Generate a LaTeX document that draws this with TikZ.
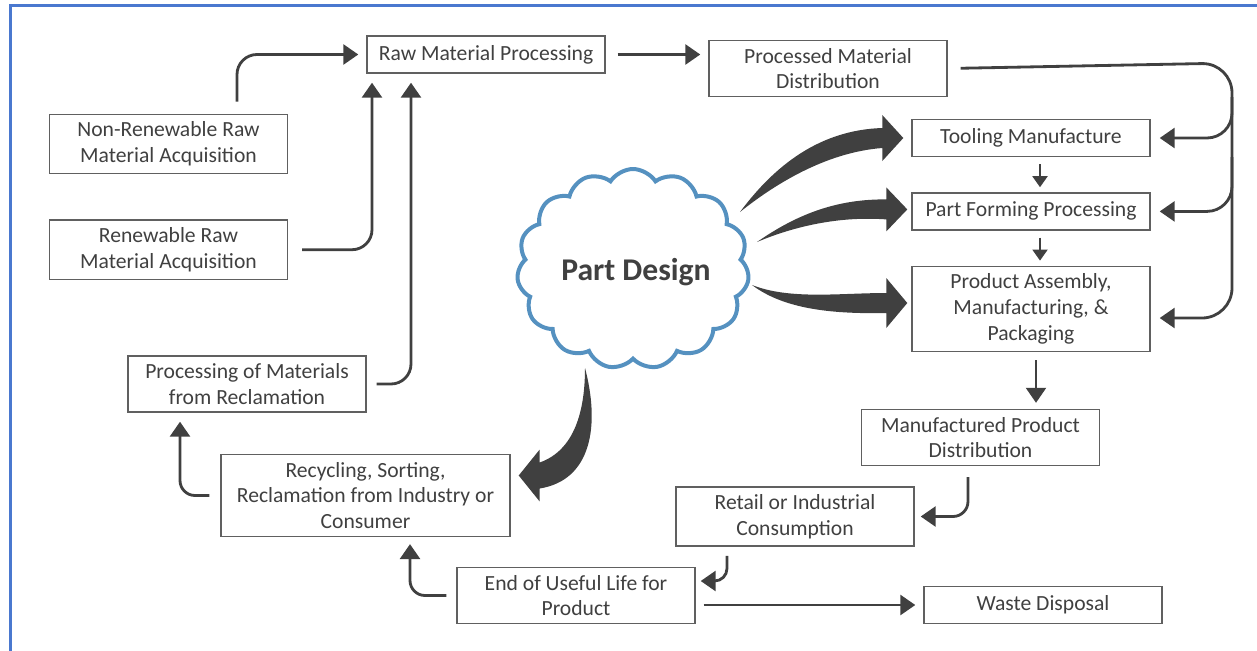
\documentclass[tikz,border=0pt]{standalone}
\usepackage{fontspec}
\setmainfont{Carlito}
\usetikzlibrary{arrows.meta,shapes.symbols,positioning}

\definecolor{ink}{HTML}{404040}
\definecolor{boxline}{HTML}{606060}
\definecolor{cloudblue}{HTML}{5591C0}
\definecolor{frameblue}{HTML}{4A78CF}

\tikzset{box/.style={draw=boxline, line width=0.8pt, text=ink, align=center, minimum width=47.6mm, minimum height=7.4mm, inner ysep=1.5mm, font=\fontsize{12.3}{14.7}\selectfont}}
\tikzset{arr/.style={draw=ink, line width=1.6pt, -{Triangle[width=4mm,length=3mm]}}}
\tikzset{sarr/.style={arr, line width=1.1pt, -{Triangle[width=3mm,length=2.2mm]}}}
\tikzset{fat/.style={fill=ink}}

\newcommand{\fatarrow}[9]{%
  \fill[fat] (#1) .. controls #3 and #4 .. ([shift={({-21*#7},-#8)}]#2)
    -- ([shift={({-21*#7},-#9)}]#2) -- (#2) -- ([shift={({-21*#7},#9)}]#2)
    -- ([shift={({-21*#7},#8)}]#2) .. controls #5 and #6 .. (#1) -- cycle;}

\begin{document}
\begin{tikzpicture}[x=0.2mm,y=-0.2mm]
    \useasboundingbox (0,0) rectangle (1257,650);
    \draw[frameblue, line width=0.6mm] (10,660) -- (10,5.5) -- (1265,5.5);

    \node[box] (raw) at (486,54.5) {Raw Material Processing};
    \node[box] (proc) at (828,68.5) {Processed Material\\Distribution};
    \node[box] (nren) at (168.5,144) {Non-Renewable Raw\\Material Acquisition};
    \node[box] (ren) [below=9mm of nren] {Renewable Raw\\Material Acquisition};
    \node[box] (recl) at (247,384) {Processing of Materials\\from Reclamation};
    \node[box, minimum width=57.8mm] (recy) at (365.5,495.5) {Recycling, Sorting,\\Reclamation from Industry or\\Consumer};
    \node[box] (eol) at (576,595.5) {End of Useful Life for\\Product};
    \node[box] (waste) at (1043,605) {Waste Disposal};
    \node[box] (retail) at (795,516.5) {Retail or Industrial\\Consumption};
    \node[box] (mfd) at (980.5,437.5) {Manufactured Product\\Distribution};
    \node[box] (tool) at (1031,138) {Tooling Manufacture};
    \node[box] (form) [below=7mm of tool] {Part Forming Processing};
    \node[box] (pack) [below=7mm of form] {Product Assembly,\\Manufacturing, \&\\Packaging};

    \node[cloud, cloud puffs=15, cloud puff arc=115, aspect=1.18, draw=cloudblue, line width=0.8mm, minimum width=46.4mm, minimum height=40mm] (pd) at (633,269) {};
    \node[text=ink, font=\bfseries\fontsize{18}{20}\selectfont] (pdt) at (636,272) {Part Design};

    \draw[arr, shorten <=2.4mm, shorten >=1.6mm] (raw.east) -- (raw.east -| proc.west);
    \draw[arr, rounded corners=4mm, shorten <=2.4mm, shorten >=1.6mm] ([xshift=13.7mm]nren.north) |- (raw.west);
    \draw[arr, rounded corners=4mm, shorten <=2.8mm, shorten >=1.8mm] (ren.east) -| ([xshift=-22.8mm]raw.south);
    \draw[arr, rounded corners=4mm, shorten <=2mm, shorten >=1.8mm] (recl.east) -| ([xshift=-15mm]raw.south);

    \coordinate (bend) at (1232,63);
    \coordinate (pk) at ([yshift=-1.8mm]pack.east);
    \draw[arr, rounded corners=6mm, shorten <=2.6mm, shorten >=1.8mm] (proc.east) -- (bend) -- (bend |- pk) -- (pk);
    \draw[arr, rounded corners=5mm, shorten >=1.8mm] (bend |- proc.south) |- (tool.east);
    \draw[arr, rounded corners=5mm, shorten >=1.8mm] (bend |- tool.south) |- (form.east);

    \draw[sarr, shorten <=1.4mm, shorten >=1mm] ([xshift=1.8mm]tool.south) -- ([xshift=1.8mm]form.north);
    \draw[sarr, shorten <=1.4mm, shorten >=1mm] ([xshift=1.8mm]form.south) -- ([xshift=1.8mm]pack.north);
    \draw[arr, line width=1.3pt, shorten <=1.6mm, shorten >=1.2mm] ([xshift=1mm]pack.south) -- ([xshift=1mm]pack.south |- mfd.north);
    \draw[arr, rounded corners=3mm, shorten <=2.2mm, shorten >=1.2mm] ([xshift=-2.5mm]mfd.south) |- (retail.east);
    \draw[arr, rounded corners=2.5mm, shorten <=1.8mm, shorten >=1mm] ([xshift=-13.6mm]retail.south) |- ([yshift=2.9mm]eol.east);
    \draw[arr, shorten <=1.6mm, shorten >=1.6mm] (eol.east |- waste.west) -- (waste.west);
    \draw[arr, rounded corners=3mm, shorten <=2mm, shorten >=1.4mm] (eol.west) -| ([xshift=8.9mm]recy.south);
    \draw[arr, rounded corners=3mm, shorten <=2.2mm, shorten >=1.8mm] (recy.west) -| ([xshift=-13.4mm]recl.south);

    \coordinate (tA) at (740,212);
    \coordinate (tB) at (757,242);
    \coordinate (tC) at (752,285);
    \coordinate (tD) at (585,368);
    \coordinate (hA) at ([xshift=-1.6mm]tool.west);
    \coordinate (hB) at ([xshift=-0.8mm,yshift=0.4mm]form.west);
    \coordinate (hC) at ([xshift=-0.8mm,yshift=1.2mm]pack.west);
    \coordinate (hD) at ([xshift=1.6mm,yshift=4mm]recy.east);

    \fatarrow{tA}{hA}{(775,165)}{(820,130)}{(830,152)}{(780,180)}{1}{10}{23}
    \fatarrow{tB}{hB}{(800,212)}{(840,199)}{(840,216)}{(795,226)}{1}{10}{22}
    \fatarrow{tC}{hC}{(790,300)}{(840,293)}{(835,314)}{(785,310)}{1}{10}{25}
    \fatarrow{tD}{hD}{(585,410)}{(575,450)}{(592,480)}{(600,425)}{-1}{13}{26}
\end{tikzpicture}
\end{document}
